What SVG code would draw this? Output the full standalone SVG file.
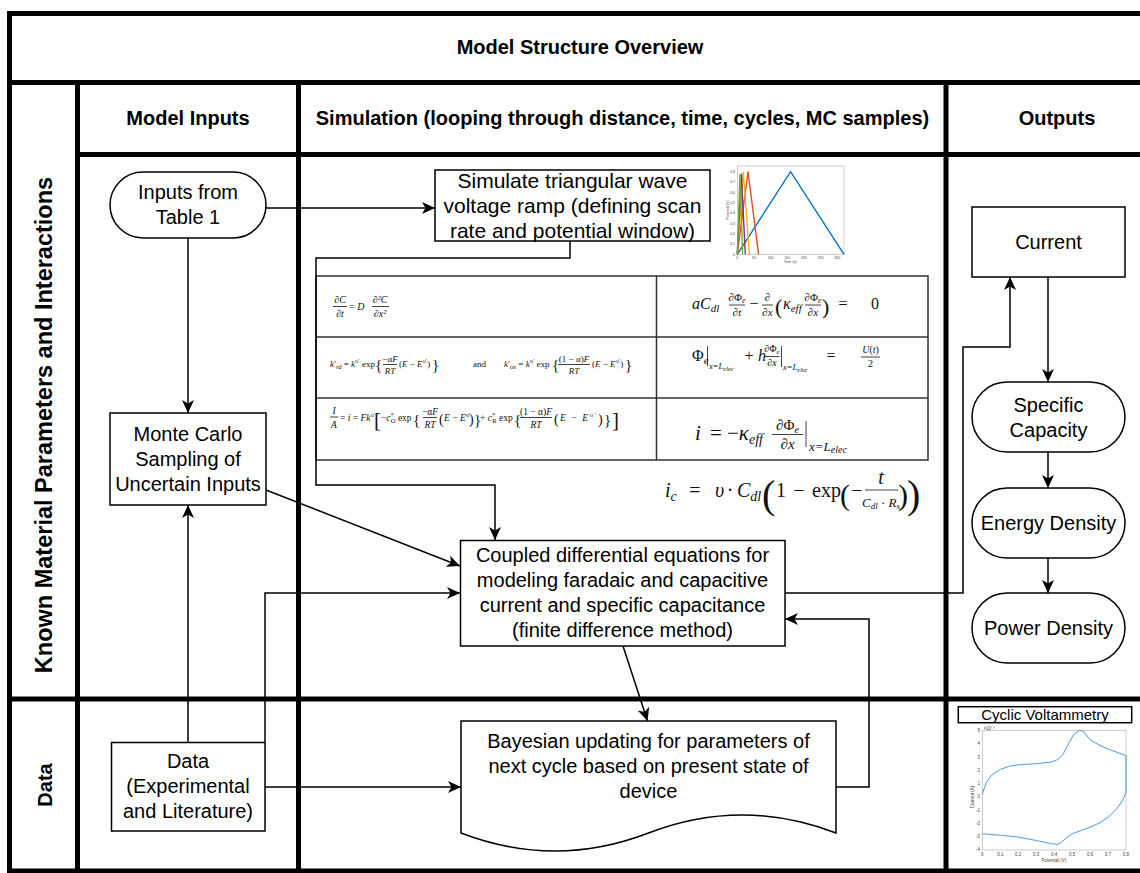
<svg xmlns="http://www.w3.org/2000/svg" width="1140" height="873" viewBox="0 0 1140 873">
<defs>
<marker id="arr" markerUnits="userSpaceOnUse" markerWidth="14" markerHeight="14" viewBox="0 -7 14 14" refX="13" refY="0" orient="auto">
<path d="M0,-6 L13,0 L0,6 L3.5,0 Z" fill="#000"/>
</marker>
<style>
.lane{stroke:#000;stroke-width:5;fill:none}
.node{fill:#fff;stroke:#000;stroke-width:1.5}
.lbl{font-family:"Liberation Sans",Arial,sans-serif;font-size:20px;fill:#000;text-anchor:middle}
.hdr{font-weight:bold}
.conn{fill:none;stroke:#000;stroke-width:1.5}
.math{font-family:"Liberation Serif","DejaVu Serif",serif;fill:#111}
.it{font-style:italic}
.mid{text-anchor:middle}
.mline{stroke:#111;stroke-width:0.8}
.tbl{stroke:#333;stroke-width:1.5;fill:none}
.tick{font-family:"Liberation Sans",Arial,sans-serif;fill:#444}
</style>
</defs>
<rect width="1140" height="873" fill="#fff"/>

<g id="lanes">
<line class="lane" x1="9.5" y1="13.5" x2="1140" y2="13.5"/>
<line class="lane" x1="9.5" y1="11" x2="9.5" y2="873"/>
<line class="lane" x1="9.5" y1="871" x2="1140" y2="871"/>
<line class="lane" x1="9.5" y1="82.5" x2="1140" y2="82.5"/>
<line class="lane" x1="77.5" y1="82.5" x2="77.5" y2="871"/>
<line class="lane" x1="77.5" y1="154.5" x2="1140" y2="154.5"/>
<line class="lane" x1="298.5" y1="82.5" x2="298.5" y2="871"/>
<line class="lane" x1="946" y1="82.5" x2="946" y2="871"/>
<line class="lane" x1="9.5" y1="699" x2="1140" y2="699"/>
<text class="lbl hdr" x="580" y="54">Model Structure Overview</text>
<text class="lbl hdr" x="188" y="125">Model Inputs</text>
<text class="lbl hdr" x="622.5" y="125">Simulation (looping through distance, time, cycles, MC samples)</text>
<text class="lbl hdr" x="1057" y="125">Outputs</text>
<text class="lbl hdr" transform="translate(52,425) rotate(-90)" style="font-size:23.5px">Known Material Parameters and Interactions</text>
<text class="lbl hdr" transform="translate(52,785) rotate(-90)">Data</text>
</g>

<g id="equations">
<rect class="tbl" x="316" y="276" width="612" height="184"/>
<line class="tbl" x1="316" y1="337" x2="928" y2="337"/>
<line class="tbl" x1="316" y1="398" x2="928" y2="398"/>
<line class="tbl" x1="656.5" y1="276" x2="656.5" y2="460"/>
<!-- row 1 left -->
<g class="math" font-size="10">
<text class="it mid" x="340" y="303">∂C</text>
<line class="mline" x1="333" y1="306.5" x2="347" y2="306.5"/>
<text class="it mid" x="340" y="317">∂t</text>
<text x="349" y="310">= <tspan class="it">D</tspan></text>
<text class="it mid" x="380" y="303">∂²C</text>
<line class="mline" x1="372" y1="306.5" x2="389" y2="306.5"/>
<text class="it mid" x="380" y="317">∂x²</text>
</g>
<!-- row 1 right -->
<g class="math" font-size="16">
<text class="it" x="692" y="309">aC<tspan font-size="11" dy="3">dl</tspan></text>
<text class="mid" x="737" y="301" font-size="11">∂Φ<tspan class="it" font-size="8" dy="2">e</tspan></text>
<line class="mline" x1="729" y1="305" x2="745" y2="305"/>
<text class="mid" x="737" y="316" font-size="11">∂<tspan class="it">t</tspan></text>
<text class="mid" x="754" y="309">−</text>
<text class="mid" x="767.5" y="301" font-size="11">∂</text>
<line class="mline" x1="762" y1="305" x2="773" y2="305"/>
<text class="mid" x="767.5" y="316" font-size="11">∂<tspan class="it">x</tspan></text>
<text x="775" y="314" font-size="22">(</text>
<text class="it" x="783" y="309">κ<tspan font-size="11" dy="3">eff</tspan></text>
<text class="mid" x="813" y="301" font-size="11">∂Φ<tspan class="it" font-size="8" dy="2">e</tspan></text>
<line class="mline" x1="805" y1="305" x2="821" y2="305"/>
<text class="mid" x="813" y="316" font-size="11">∂<tspan class="it">x</tspan></text>
<text x="822" y="314" font-size="22">)</text>
<text class="mid" x="843" y="309">=</text>
<text class="mid" x="875" y="309">0</text>
</g>
<!-- row 2 left -->
<g class="math" font-size="9">
<text x="330" y="367"><tspan class="it">k</tspan>′<tspan class="it" font-size="6.5" dy="2">rd</tspan><tspan dy="-2"> = </tspan><tspan class="it">k</tspan><tspan font-size="6.5" dy="-4">o′</tspan><tspan dy="4"> exp</tspan></text>
<text x="375" y="370" font-size="15">{</text>
<text class="mid" x="390" y="362">−α<tspan class="it">F</tspan></text>
<line class="mline" x1="383" y1="364.5" x2="397" y2="364.5"/>
<text class="mid it" x="390" y="374">RT</text>
<text x="399" y="367">(<tspan class="it">E</tspan> − <tspan class="it">E</tspan><tspan font-size="6.5" dy="-4">o′</tspan><tspan dy="4">)</tspan></text>
<text x="432" y="370" font-size="15">}</text>
<text x="473" y="367">and</text>
<text x="504" y="367"><tspan class="it">k</tspan>′<tspan class="it" font-size="6.5" dy="2">ox</tspan><tspan dy="-2"> = </tspan><tspan class="it">k</tspan><tspan font-size="6.5" dy="-4">o′</tspan><tspan dy="4"> exp</tspan></text>
<text x="552" y="370" font-size="15">{</text>
<text class="mid" x="574" y="362">(1 − α)<tspan class="it">F</tspan></text>
<line class="mline" x1="558" y1="364.5" x2="590" y2="364.5"/>
<text class="mid it" x="574" y="374">RT</text>
<text x="592" y="367">(<tspan class="it">E</tspan> − <tspan class="it">E</tspan><tspan font-size="6.5" dy="-4">o′</tspan><tspan dy="4">)</tspan></text>
<text x="625" y="370" font-size="15">}</text>
</g>
<!-- row 2 right -->
<g class="math" font-size="16">
<text x="692" y="361">Φ<tspan class="it" font-size="11" dy="3">e</tspan></text>
<line class="mline" x1="707.5" y1="346" x2="707.5" y2="366"/>
<text class="it" x="709" y="369" font-size="8.5">x=L<tspan font-size="6.5" dy="1.5">elec</tspan></text>
<text class="mid" x="749" y="361">+</text>
<text class="it" x="758" y="361">h</text>
<text class="mid" x="772" y="352" font-size="10">∂Φ<tspan class="it" font-size="7" dy="1.5">e</tspan></text>
<line class="mline" x1="764.5" y1="356.5" x2="779.5" y2="356.5"/>
<text class="mid" x="772" y="366" font-size="10">∂<tspan class="it">x</tspan></text>
<line class="mline" x1="781.5" y1="346" x2="781.5" y2="367"/>
<text class="it" x="783" y="370" font-size="8.5">x=L<tspan font-size="6.5" dy="1.5">elec</tspan></text>
<text class="mid" x="831" y="361">=</text>
<text class="mid" x="870.5" y="353" font-size="10"><tspan class="it">U</tspan>(<tspan class="it">t</tspan>)</text>
<line class="mline" x1="861" y1="357" x2="880" y2="357"/>
<text class="mid" x="870.5" y="367" font-size="10">2</text>
</g>
<!-- row 3 left -->
<g class="math" font-size="9.5">
<text class="mid it" x="334" y="413.5">I</text>
<line class="mline" x1="330" y1="417" x2="338.5" y2="417"/>
<text class="mid it" x="334" y="428">A</text>
<text x="340" y="421">= <tspan class="it">i</tspan> = <tspan class="it">Fk</tspan><tspan font-size="6.5" dy="-4">o′</tspan></text>
<text x="374" y="427" font-size="21">[</text>
<text x="381" y="421">−<tspan class="it">c</tspan><tspan font-size="6.5" dy="-4">*</tspan><tspan font-size="6.5" dx="-3" dy="6">O</tspan><tspan dy="-2"> exp</tspan></text>
<text x="413" y="424.5" font-size="15">{</text>
<text class="mid" x="430" y="414.5">−α<tspan class="it">F</tspan></text>
<line class="mline" x1="423" y1="417.5" x2="437" y2="417.5"/>
<text class="mid it" x="430" y="428">RT</text>
<text x="439" y="424" font-size="14">(</text>
<text x="444" y="421"><tspan class="it">E</tspan> − <tspan class="it">E</tspan><tspan font-size="6.5" dy="-4">o′</tspan></text>
<text x="469" y="424" font-size="14">)</text>
<text x="474" y="424.5" font-size="15">}</text>
<text x="480" y="421">+ <tspan class="it">c</tspan><tspan font-size="6.5" dy="-4">*</tspan><tspan font-size="6.5" dx="-3" dy="6">R</tspan><tspan dy="-2"> exp</tspan></text>
<text x="514" y="424.5" font-size="15">{</text>
<text class="mid" x="536" y="414.5">(1 − α)<tspan class="it">F</tspan></text>
<line class="mline" x1="520" y1="417.5" x2="552" y2="417.5"/>
<text class="mid it" x="536" y="428">RT</text>
<text x="554" y="424" font-size="14">(</text>
<text x="560" y="421" textLength="36" lengthAdjust="spacing"><tspan class="it">E</tspan> − <tspan class="it">E</tspan><tspan font-size="6.5" dy="-4">o′</tspan></text>
<text x="598" y="424" font-size="14">)</text>
<text x="604" y="424.5" font-size="15">}</text>
<text x="612" y="427" font-size="21">]</text>
</g>
<!-- row 3 right -->
<g class="math" font-size="21">
<text class="it" x="695" y="440">i</text>
<text class="mid" x="716" y="440">=</text>
<text x="727" y="440">−<tspan class="it">κ</tspan><tspan class="it" font-size="14" dy="4">eff</tspan></text>
<text class="mid" x="787.5" y="430" font-size="15">∂Φ<tspan class="it" font-size="10" dy="3">e</tspan></text>
<line class="mline" x1="772" y1="434.5" x2="803" y2="434.5"/>
<text class="mid" x="787.5" y="449" font-size="15">∂<tspan class="it">x</tspan></text>
<line class="mline" x1="806" y1="421" x2="806" y2="447"/>
<text class="it" x="809" y="451" font-size="13">x=L<tspan font-size="10" dy="2">elec</tspan></text>
</g>
<!-- ic -->
<g class="math" font-size="20">
<text class="it" x="665" y="497">i<tspan font-size="14" dy="4">c</tspan></text>
<text class="mid" x="695" y="497">=</text>
<text class="it" x="715" y="497">υ</text>
<text class="mid" x="730" y="497">·</text>
<text class="it" x="737" y="497">C<tspan font-size="14" dy="4">dl</tspan></text>
<text x="762" y="508" font-size="40">(</text>
<text x="776" y="497">1</text>
<text class="mid" x="799" y="497">−</text>
<text x="812" y="497">exp</text>
<text x="840" y="505" font-size="30">(</text>
<text class="mid" x="857" y="497">−</text>
<text class="mid it" x="881" y="484">t</text>
<line class="mline" x1="865" y1="490" x2="898" y2="490"/>
<text class="mid" x="881" y="507" font-size="13"><tspan class="it">C</tspan><tspan class="it" font-size="9" dy="2">dl</tspan><tspan dy="-2"> · </tspan><tspan class="it">R</tspan><tspan class="it" font-size="9" dy="2">s</tspan></text>
<text x="898" y="505" font-size="30">)</text>
<text x="907" y="508" font-size="40">)</text>
</g>
</g>

<g id="ramp-plot">
<rect x="737.3" y="166" width="106.7" height="88.3" fill="#fff" stroke="#999" stroke-width="0.5"/>
<g fill="none" stroke-width="1.4">
<polyline points="737.3,254.3 790.6,171.7 844,254.3" stroke="#0072bd"/>
<polyline points="737.3,254.3 748,171.7 758.6,254.3" stroke="#d95319"/>
<polyline points="737.3,254.3 743.3,171.7 749.3,254.3" stroke="#edb120"/>
<polyline points="737.3,254.3 741.3,173.7 745.3,254.3" stroke="#7e2f8e"/>
<polyline points="737.3,254.3 740,173.7 742.6,254.3" stroke="#77ac30"/>
</g>
<g class="tick" font-size="3.5" text-anchor="end">
<text x="735" y="255.5">0</text><text x="735" y="245.2">0.1</text><text x="735" y="234.9">0.2</text><text x="735" y="224.5">0.3</text><text x="735" y="214.2">0.4</text><text x="735" y="203.9">0.5</text><text x="735" y="193.5">0.6</text><text x="735" y="183.2">0.7</text><text x="735" y="172.9">0.8</text>
</g>
<g class="tick" font-size="3.5" text-anchor="middle">
<text x="737.3" y="258.5">0</text><text x="754" y="258.5">50</text><text x="770.6" y="258.5">100</text><text x="787.3" y="258.5">150</text><text x="804" y="258.5">200</text><text x="820.6" y="258.5">250</text><text x="837.3" y="258.5">300</text>
<text x="790" y="262.5">Time (s)</text>
<text transform="translate(729,210) rotate(-90)">Potential (V)</text>
</g>
</g>

<g id="cv-plot">
<rect class="node" x="958.3" y="706.7" width="173.4" height="16"/>
<text class="lbl" x="1045" y="720" style="font-size:15px">Cyclic Voltammetry</text>
<rect x="982.3" y="730.7" width="143.7" height="119.3" fill="#fff" stroke="#999" stroke-width="0.5"/>
<polyline fill="none" stroke="#3d8fd1" stroke-width="0.9" stroke-linejoin="round" points="982.3,794 985.9,783.4 991.3,775.5 1000.3,769.5 1009.2,766.2 1018.2,764.9 1036.2,763.6 1050.5,762.2 1057.7,759.6 1063.1,754.3 1068.5,743.7 1073.9,734.4 1079.3,730.4 1082.9,731.1 1090.1,739.7 1099,745 1108,749 1117,752.3 1126,755.6 1126,792.7 1122.4,800.7 1117,808.6 1108,817.3 1099,823.2 1090.1,827.2 1081.1,830.5 1072.1,833.8 1066.7,837.8 1061.3,842.4 1057.7,844.4 1052.3,843.8 1036.2,840.5 1018.2,837.1 1000.3,835.2 982.3,833.8"/>
<g class="tick" font-size="4.5" text-anchor="end">
<text x="980" y="732">5</text><text x="980" y="745.3">4</text><text x="980" y="758.5">3</text><text x="980" y="771.8">2</text><text x="980" y="785.1">1</text><text x="980" y="798.3">0</text><text x="980" y="811.6">-1</text><text x="980" y="824.8">-2</text><text x="980" y="838.1">-3</text><text x="980" y="851.4">-4</text>
</g>
<g class="tick" font-size="4.5" text-anchor="middle">
<text x="982.3" y="856">0</text><text x="1000.3" y="856">0.1</text><text x="1018.2" y="856">0.2</text><text x="1036.2" y="856">0.3</text><text x="1054.1" y="856">0.4</text><text x="1072.1" y="856">0.5</text><text x="1090.1" y="856">0.6</text><text x="1108" y="856">0.7</text><text x="1126" y="856">0.8</text>
<text x="1054" y="862">Potential (V)</text>
<text transform="translate(974,797) rotate(-90)">Current (A)</text>
<text x="989" y="729.5">×10⁻³</text>
</g>
</g>

<g id="connectors">
<line class="conn" x1="266" y1="208" x2="435" y2="208" marker-end="url(#arr)"/>
<line class="conn" x1="188" y1="238" x2="188" y2="413" marker-end="url(#arr)"/>
<line class="conn" x1="266" y1="490" x2="460" y2="566" marker-end="url(#arr)"/>
<line class="conn" x1="188" y1="742" x2="188" y2="505" marker-end="url(#arr)"/>
<polyline class="conn" points="265,742 265,593 460,593" marker-end="url(#arr)"/>
<line class="conn" x1="265" y1="787" x2="461" y2="787" marker-end="url(#arr)"/>
<polyline class="conn" points="570,241 570,258 316,258 316,485 495,485 495,540" marker-end="url(#arr)"/>
<line class="conn" x1="623" y1="646" x2="647.5" y2="721" marker-end="url(#arr)"/>
<polyline class="conn" points="836,787 869,787 869,619 785,619" marker-end="url(#arr)"/>
<polyline class="conn" points="785,593 963,593 963,347 1010,347 1010,277" marker-end="url(#arr)"/>
<line class="conn" x1="1048" y1="277" x2="1048" y2="382" marker-end="url(#arr)"/>
<line class="conn" x1="1048" y1="452" x2="1048" y2="488" marker-end="url(#arr)"/>
<line class="conn" x1="1048" y1="558" x2="1048" y2="593" marker-end="url(#arr)"/>
</g>

<g id="inputs-table1">
<rect class="node" x="110" y="172" width="156" height="66" rx="33"/>
<text class="lbl" x="188" y="199">Inputs from</text>
<text class="lbl" x="188" y="224">Table 1</text>
</g>
<g id="simulate-ramp">
<rect class="node" x="435" y="170" width="275" height="71"/>
<text class="lbl" x="572.5" y="188" style="font-size:21px">Simulate triangular wave</text>
<text class="lbl" x="572.5" y="213" style="font-size:21px">voltage ramp (defining scan</text>
<text class="lbl" x="572.5" y="238" style="font-size:21px">rate and potential window)</text>
</g>
<g id="monte-carlo">
<rect class="node" x="110" y="413" width="156" height="92"/>
<text class="lbl" x="188" y="441">Monte Carlo</text>
<text class="lbl" x="188" y="466">Sampling of</text>
<text class="lbl" x="188" y="491">Uncertain Inputs</text>
</g>
<g id="coupled">
<rect class="node" x="460.5" y="540.5" width="324.5" height="105.5"/>
<text class="lbl" x="622.5" y="562">Coupled differential equations for</text>
<text class="lbl" x="622.5" y="587">modeling faradaic and capacitive</text>
<text class="lbl" x="622.5" y="612">current and specific capacitance</text>
<text class="lbl" x="622.5" y="637">(finite difference method)</text>
</g>
<g id="data">
<rect class="node" x="111.5" y="742.5" width="153.5" height="88.5"/>
<text class="lbl" x="188" y="768">Data</text>
<text class="lbl" x="188" y="793">(Experimental</text>
<text class="lbl" x="188" y="818">and Literature)</text>
</g>
<g id="bayesian">
<path class="node" d="M461,721 H836 V833 Q742,797 648.5,833 Q555,869 461,833 Z"/>
<text class="lbl" x="648.5" y="748">Bayesian updating for parameters of</text>
<text class="lbl" x="648.5" y="773">next cycle based on present state of</text>
<text class="lbl" x="648.5" y="798">device</text>
</g>
<g id="current">
<rect class="node" x="972" y="207" width="153" height="70"/>
<text class="lbl" x="1048.5" y="249">Current</text>
</g>
<g id="specific-capacity">
<rect class="node" x="972" y="382" width="153" height="70" rx="35"/>
<text class="lbl" x="1048.5" y="412">Specific</text>
<text class="lbl" x="1048.5" y="437">Capacity</text>
</g>
<g id="energy-density">
<rect class="node" x="972" y="488" width="153" height="70" rx="35"/>
<text class="lbl" x="1048.5" y="530">Energy Density</text>
</g>
<g id="power-density">
<rect class="node" x="972" y="593" width="153" height="70" rx="35"/>
<text class="lbl" x="1048.5" y="635">Power Density</text>
</g>
</svg>
